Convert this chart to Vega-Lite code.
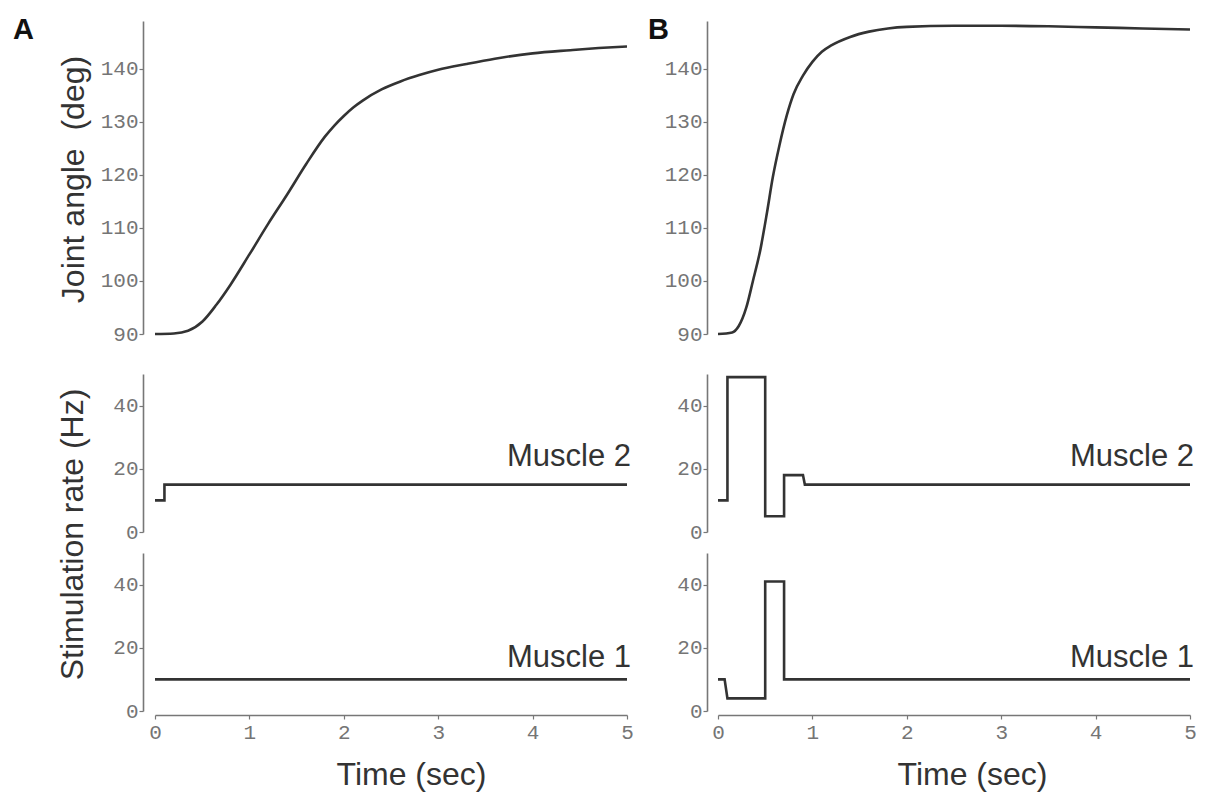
{
  "$schema": "https://vega.github.io/schema/vega-lite/v6.json",
  "background": "white",
  "padding": {"left": 13, "top": 15, "right": 5, "bottom": 2},
  "config": {
    "view": {"stroke": null},
    "axis": {
      "grid": false,
      "domainColor": "#777",
      "domainWidth": 1.6,
      "tickColor": "#777",
      "tickSize": 4,
      "tickWidth": 1.2,
      "labelFont": "Liberation Mono",
      "labelFontSize": 21,
      "labelColor": "#757575",
      "labelPadding": 1,
      "labelFlush": false,
      "labelOverlap": false,
      "titleFont": "Liberation Sans",
      "titleFontSize": 32,
      "titleFontWeight": "normal",
      "titleColor": "#333"
    }
  },
  "datasets": {
    "angle": [
      {"col": "A", "t": 0, "deg": 90}, {"col": "A", "t": 0.2, "deg": 90.1}, {"col": "A", "t": 0.35, "deg": 90.6},
      {"col": "A", "t": 0.5, "deg": 92.3}, {"col": "A", "t": 0.65, "deg": 95.5}, {"col": "A", "t": 0.8, "deg": 99.3},
      {"col": "A", "t": 1.0, "deg": 105}, {"col": "A", "t": 1.2, "deg": 110.8}, {"col": "A", "t": 1.4, "deg": 116.3},
      {"col": "A", "t": 1.6, "deg": 122}, {"col": "A", "t": 1.8, "deg": 127.2}, {"col": "A", "t": 1.9, "deg": 129.3},
      {"col": "A", "t": 2.0, "deg": 131.1}, {"col": "A", "t": 2.1, "deg": 132.7}, {"col": "A", "t": 2.2, "deg": 134},
      {"col": "A", "t": 2.4, "deg": 136.1}, {"col": "A", "t": 2.6, "deg": 137.6},
      {"col": "A", "t": 2.8, "deg": 138.8}, {"col": "A", "t": 3.0, "deg": 139.8}, {"col": "A", "t": 3.3, "deg": 140.9},
      {"col": "A", "t": 3.6, "deg": 141.9}, {"col": "A", "t": 4.0, "deg": 142.9}, {"col": "A", "t": 4.4, "deg": 143.5},
      {"col": "A", "t": 4.7, "deg": 143.9}, {"col": "A", "t": 5.0, "deg": 144.2},
      {"col": "B", "t": 0, "deg": 90}, {"col": "B", "t": 0.15, "deg": 90.3}, {"col": "B", "t": 0.22, "deg": 91.5},
      {"col": "B", "t": 0.3, "deg": 95}, {"col": "B", "t": 0.37, "deg": 100}, {"col": "B", "t": 0.45, "deg": 106},
      {"col": "B", "t": 0.52, "deg": 113}, {"col": "B", "t": 0.58, "deg": 119.5}, {"col": "B", "t": 0.65, "deg": 125.5},
      {"col": "B", "t": 0.73, "deg": 131.3}, {"col": "B", "t": 0.8, "deg": 135.2}, {"col": "B", "t": 0.9, "deg": 138.7},
      {"col": "B", "t": 1.0, "deg": 141.3}, {"col": "B", "t": 1.1, "deg": 143.2}, {"col": "B", "t": 1.2, "deg": 144.4},
      {"col": "B", "t": 1.4, "deg": 146}, {"col": "B", "t": 1.6, "deg": 147}, {"col": "B", "t": 1.8, "deg": 147.6},
      {"col": "B", "t": 2.0, "deg": 147.9}, {"col": "B", "t": 2.5, "deg": 148.1}, {"col": "B", "t": 3.0, "deg": 148.1},
      {"col": "B", "t": 3.5, "deg": 148}, {"col": "B", "t": 4.0, "deg": 147.8}, {"col": "B", "t": 4.5, "deg": 147.6},
      {"col": "B", "t": 5.0, "deg": 147.4}
    ],
    "stim": [
      {"col": "A", "m": "2", "i": 1, "t": 0, "hz": 10}, {"col": "A", "m": "2", "i": 2, "t": 0.1, "hz": 10},
      {"col": "A", "m": "2", "i": 3, "t": 0.1, "hz": 15}, {"col": "A", "m": "2", "i": 4, "t": 5, "hz": 15},
      {"col": "A", "m": "1", "i": 1, "t": 0, "hz": 10}, {"col": "A", "m": "1", "i": 2, "t": 5, "hz": 10},
      {"col": "B", "m": "2", "i": 1, "t": 0, "hz": 10}, {"col": "B", "m": "2", "i": 2, "t": 0.1, "hz": 10},
      {"col": "B", "m": "2", "i": 3, "t": 0.1, "hz": 49}, {"col": "B", "m": "2", "i": 4, "t": 0.5, "hz": 49},
      {"col": "B", "m": "2", "i": 5, "t": 0.5, "hz": 5}, {"col": "B", "m": "2", "i": 6, "t": 0.7, "hz": 5},
      {"col": "B", "m": "2", "i": 7, "t": 0.7, "hz": 18}, {"col": "B", "m": "2", "i": 8, "t": 0.9, "hz": 18},
      {"col": "B", "m": "2", "i": 9, "t": 0.92, "hz": 15}, {"col": "B", "m": "2", "i": 10, "t": 5, "hz": 15},
      {"col": "B", "m": "1", "i": 1, "t": 0, "hz": 10}, {"col": "B", "m": "1", "i": 2, "t": 0.07, "hz": 10},
      {"col": "B", "m": "1", "i": 3, "t": 0.1, "hz": 4}, {"col": "B", "m": "1", "i": 4, "t": 0.5, "hz": 4},
      {"col": "B", "m": "1", "i": 5, "t": 0.5, "hz": 41}, {"col": "B", "m": "1", "i": 6, "t": 0.7, "hz": 41},
      {"col": "B", "m": "1", "i": 7, "t": 0.7, "hz": 10}, {"col": "B", "m": "1", "i": 8, "t": 5, "hz": 10}
    ],
    "labels": [
      {"m": "2", "t": 5, "hz": 21, "label": "Muscle 2"},
      {"m": "1", "t": 5, "hz": 14, "label": "Muscle 1"}
    ]
  },
  "columns": 2,
  "spacing": {"row": 21, "column": 91},
  "bounds": "flush",
  "concat": [
    {
      "width": 472, "height": 332,
      "title": {"text": "A", "anchor": "start", "frame": "group", "orient": "top", "offset": 0, "dx": -142, "dy": 47, "baseline": "alphabetic", "font": "Liberation Sans", "fontSize": 29, "fontWeight": "bold", "color": "#111"},
      "data": {"name": "angle"},
      "transform": [{"filter": "datum.col === 'A'"}],
      "mark": {"type": "line", "interpolate": "monotone", "color": "#333", "strokeWidth": 2.6},
      "encoding": {
        "x": {"field": "t", "type": "quantitative", "scale": {"domain": [0, 5], "nice": false}, "axis": null},
        "y": {"field": "deg", "type": "quantitative", "scale": {"domain": [90, 149], "nice": false, "zero": false, "range": [313, 0]},
              "axis": {"values": [90, 100, 110, 120, 130, 140], "offset": 12, "title": "Joint angle\u00a0 (deg)", "titleX": -70, "titleY": 158, "titleBaseline": "middle", "titleAngle": -90}}
      }
    },
    {
      "width": 472, "height": 332,
      "title": {"text": "B", "anchor": "start", "frame": "group", "orient": "top", "offset": 0, "dx": -70, "dy": 47, "baseline": "alphabetic", "font": "Liberation Sans", "fontSize": 29, "fontWeight": "bold", "color": "#111"},
      "data": {"name": "angle"},
      "transform": [{"filter": "datum.col === 'B'"}],
      "mark": {"type": "line", "interpolate": "monotone", "color": "#333", "strokeWidth": 2.6},
      "encoding": {
        "x": {"field": "t", "type": "quantitative", "scale": {"domain": [0, 5], "nice": false}, "axis": null},
        "y": {"field": "deg", "type": "quantitative", "scale": {"domain": [90, 149], "nice": false, "zero": false, "range": [313, 0]},
              "axis": {"values": [90, 100, 110, 120, 130, 140], "offset": 11, "title": null}}
      }
    },
    {
      "width": 472, "height": 158,
      "layer": [
        {
          "data": {"name": "stim"},
          "transform": [{"filter": "datum.col === 'A' && datum.m === '2'"}],
          "mark": {"type": "line", "color": "#333", "strokeWidth": 2.6},
          "encoding": {
            "x": {"field": "t", "type": "quantitative", "scale": {"domain": [0, 5], "nice": false}, "axis": null},
            "y": {"field": "hz", "type": "quantitative", "scale": {"domain": [0, 50], "nice": false},
                  "axis": {"values": [0, 20, 40], "offset": 12, "title": "Stimulation rate (Hz)", "titleX": -71, "titleY": 160, "titleBaseline": "middle", "titleAngle": -90}},
            "order": {"field": "i", "type": "quantitative"}
          }
        },
        {
          "data": {"name": "labels"},
          "transform": [{"filter": "datum.m === '2'"}],
          "mark": {"type": "text", "align": "right", "baseline": "alphabetic", "dx": 4, "font": "Liberation Sans", "fontSize": 31, "color": "#333"},
          "encoding": {
            "x": {"field": "t", "type": "quantitative"},
            "y": {"field": "hz", "type": "quantitative"},
            "text": {"field": "label"}
          }
        }
      ]
    },
    {
      "width": 472, "height": 158,
      "layer": [
        {
          "data": {"name": "stim"},
          "transform": [{"filter": "datum.col === 'B' && datum.m === '2'"}],
          "mark": {"type": "line", "color": "#333", "strokeWidth": 2.6},
          "encoding": {
            "x": {"field": "t", "type": "quantitative", "scale": {"domain": [0, 5], "nice": false}, "axis": null},
            "y": {"field": "hz", "type": "quantitative", "scale": {"domain": [0, 50], "nice": false},
                  "axis": {"values": [0, 20, 40], "offset": 11, "title": null}},
            "order": {"field": "i", "type": "quantitative"}
          }
        },
        {
          "data": {"name": "labels"},
          "transform": [{"filter": "datum.m === '2'"}],
          "mark": {"type": "text", "align": "right", "baseline": "alphabetic", "dx": 4, "font": "Liberation Sans", "fontSize": 31, "color": "#333"},
          "encoding": {
            "x": {"field": "t", "type": "quantitative"},
            "y": {"field": "hz", "type": "quantitative"},
            "text": {"field": "label"}
          }
        }
      ]
    },
    {
      "width": 472, "height": 158,
      "layer": [
        {
          "data": {"name": "stim"},
          "transform": [{"filter": "datum.col === 'A' && datum.m === '1'"}],
          "mark": {"type": "line", "color": "#333", "strokeWidth": 2.6},
          "encoding": {
            "x": {"field": "t", "type": "quantitative", "scale": {"domain": [0, 5], "nice": false},
                  "axis": {"values": [0, 1, 2, 3, 4, 5], "format": "d", "offset": 4, "title": "Time (sec)", "titleX": 256, "titleY": 59, "titleAlign": "center", "titleBaseline": "middle", "labelPadding": 2}},
            "y": {"field": "hz", "type": "quantitative", "scale": {"domain": [0, 50], "nice": false},
                  "axis": {"values": [0, 20, 40], "offset": 12, "title": null}},
            "order": {"field": "i", "type": "quantitative"}
          }
        },
        {
          "data": {"name": "labels"},
          "transform": [{"filter": "datum.m === '1'"}],
          "mark": {"type": "text", "align": "right", "baseline": "alphabetic", "dx": 4, "font": "Liberation Sans", "fontSize": 31, "color": "#333"},
          "encoding": {
            "x": {"field": "t", "type": "quantitative"},
            "y": {"field": "hz", "type": "quantitative"},
            "text": {"field": "label"}
          }
        }
      ]
    },
    {
      "width": 472, "height": 158,
      "layer": [
        {
          "data": {"name": "stim"},
          "transform": [{"filter": "datum.col === 'B' && datum.m === '1'"}],
          "mark": {"type": "line", "color": "#333", "strokeWidth": 2.6},
          "encoding": {
            "x": {"field": "t", "type": "quantitative", "scale": {"domain": [0, 5], "nice": false},
                  "axis": {"values": [0, 1, 2, 3, 4, 5], "format": "d", "offset": 4, "title": "Time (sec)", "titleX": 254, "titleY": 59, "titleAlign": "center", "titleBaseline": "middle", "labelPadding": 2}},
            "y": {"field": "hz", "type": "quantitative", "scale": {"domain": [0, 50], "nice": false},
                  "axis": {"values": [0, 20, 40], "offset": 11, "title": null}},
            "order": {"field": "i", "type": "quantitative"}
          }
        },
        {
          "data": {"name": "labels"},
          "transform": [{"filter": "datum.m === '1'"}],
          "mark": {"type": "text", "align": "right", "baseline": "alphabetic", "dx": 4, "font": "Liberation Sans", "fontSize": 31, "color": "#333"},
          "encoding": {
            "x": {"field": "t", "type": "quantitative"},
            "y": {"field": "hz", "type": "quantitative"},
            "text": {"field": "label"}
          }
        }
      ]
    }
  ]
}
